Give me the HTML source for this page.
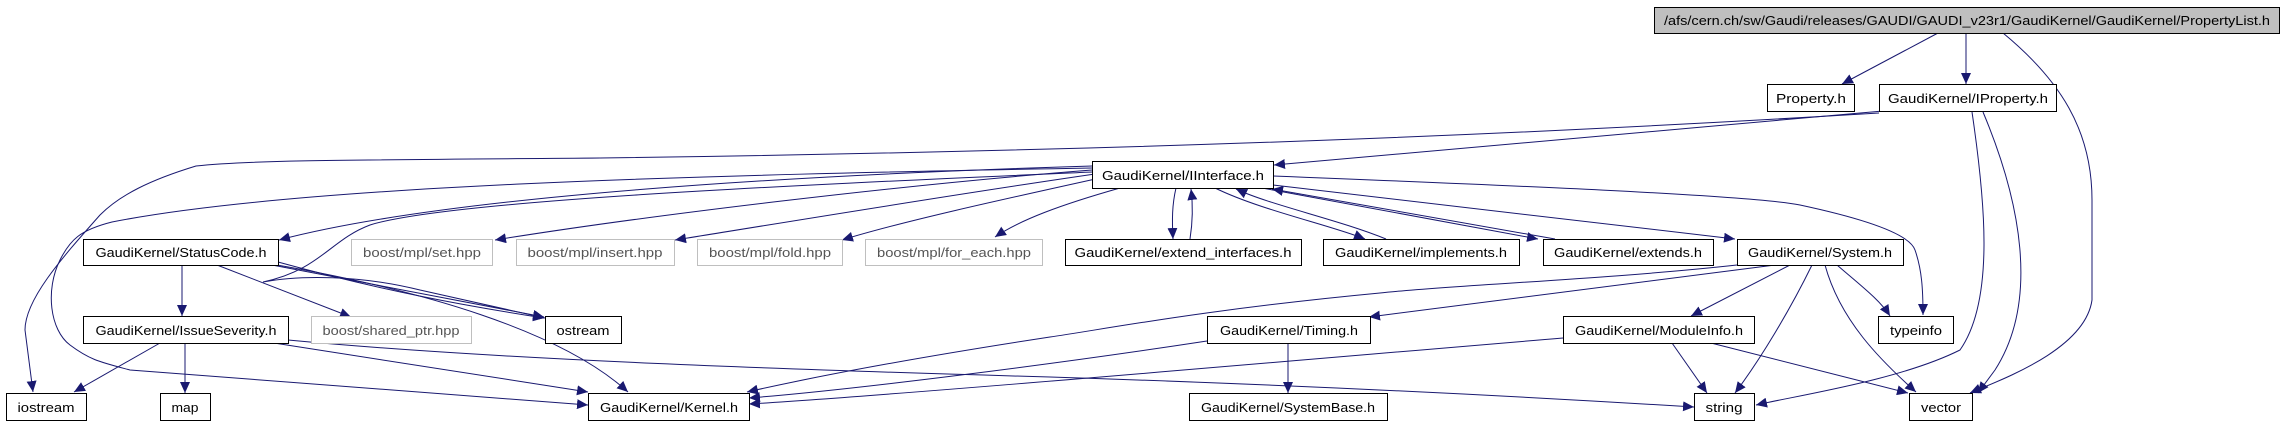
<!DOCTYPE html>
<html><head><meta charset="utf-8"><style>
html,body{margin:0;padding:0;background:#fff;}
svg{display:block;}
text{font-family:"Liberation Sans",sans-serif;font-size:13px;fill:#000;}
.g text{fill:#555;}
</style></head><body>
<svg width="2284" height="427" viewBox="0 0 2284 427" xmlns="http://www.w3.org/2000/svg">
<defs>
<marker id="a" markerUnits="userSpaceOnUse" markerWidth="12" markerHeight="10" refX="11" refY="5" orient="auto">
<path d="M0,0 L11,5 L0,10 z" fill="#191970"/>
</marker>
</defs>
<g fill="none" stroke="#191970" stroke-width="1" marker-end="url(#a)">
<!-- root -->
<path d="M1938,33 L1842,84"/>
<path d="M1966,33 L1966,84"/>
<path d="M2003,33 C2060,80 2092,130 2092,200 L2092,300 C2085,350 2000,380 1970,393"/>
<!-- IProperty -->
<path d="M1883,111 L1274,165"/>
<path d="M1879,113 C1600,130 1200,150 600,158 C350,160 250,160 196,166 C150,180 120,195 100,215 C60,260 25,300 25,330 L33,392"/>
<path d="M1972,112 C1985,200 1995,300 1960,350 C1900,380 1800,395 1756,405"/>
<path d="M1983,112 C2020,200 2040,300 1995,370 L1978,393"/>
<!-- IInterface -->
<path d="M1092,166 C800,175 450,195 279,240"/>
<path d="M1092,170 C900,185 650,215 495,240"/>
<path d="M1095,174 C950,195 800,220 675,240"/>
<path d="M1100,178 C1000,200 900,222 842,240"/>
<path d="M1120,188 C1060,205 1020,220 995,237"/>
<path d="M1092,168 C700,175 300,185 112,222 C80,230 70,240 60,260 C45,290 50,330 70,345 C90,360 100,362 130,370 L588,405"/>
<path d="M1092,172 C800,185 450,200 370,225 C330,240 320,270 263,282 C300,275 360,275 420,290 L545,318"/>
<path d="M1176,188 C1172,205 1172,220 1173,239"/>
<path d="M1190,239 C1193,220 1193,205 1191,189"/>
<path d="M1215,188 C1260,210 1330,225 1365,239"/>
<path d="M1386,239 C1340,220 1270,205 1236,189"/>
<path d="M1262,188 L1538,239"/>
<path d="M1555,239 L1272,189"/>
<path d="M1273,185 L1735,239"/>
<path d="M1273,176 C1500,185 1750,195 1800,205 C1870,220 1910,235 1915,250 C1922,270 1923,290 1923,315"/>
<!-- StatusCode -->
<path d="M182,265 L182,316"/>
<path d="M217,265 L351,317"/>
<path d="M272,265 L544,317"/>
<path d="M278,262 C380,290 460,305 544,318"/>
<path d="M277,265 C420,290 560,330 628,392"/>
<!-- IssueSeverity -->
<path d="M160,343 L74,392"/>
<path d="M185,343 L185,393"/>
<path d="M274,343 L588,392"/>
<path d="M288,340 C500,360 800,370 1050,377 C1300,385 1500,395 1694,407"/>
<!-- System -->
<path d="M1737,265 C1600,280 1450,285 1380,293 C1200,310 1100,330 1050,337 C900,360 800,380 747,392"/>
<path d="M1775,265 L1369,317"/>
<path d="M1790,265 L1691,316"/>
<path d="M1812,265 C1790,310 1760,360 1735,393"/>
<path d="M1825,265 C1840,320 1880,360 1916,392"/>
<path d="M1837,265 C1860,285 1880,300 1890,316"/>
<!-- Timing -->
<path d="M1288,343 L1288,393"/>
<path d="M1207,341 C1050,365 850,390 749,398"/>
<!-- ModuleInfo -->
<path d="M1563,338 C1300,360 900,395 749,404"/>
<path d="M1672,343 L1707,393"/>
<path d="M1711,343 L1908,393"/>
</g>
<g stroke="#000" stroke-width="1">
<rect x="1654.5" y="7.5" width="625" height="26" fill="#bfbfbf"/>
<text x="1967" y="25" text-anchor="middle" textLength="606" lengthAdjust="spacingAndGlyphs" stroke="none">/afs/cern.ch/sw/Gaudi/releases/GAUDI/GAUDI_v23r1/GaudiKernel/GaudiKernel/PropertyList.h</text>
</g>
<g fill="#fff" stroke="#000" stroke-width="1">
<rect x="1767.5" y="84.5" width="87" height="27"/>
<rect x="1879.5" y="84.5" width="177" height="27"/>
<rect x="1092.5" y="161.5" width="181" height="27"/>
<rect x="1065.5" y="239.5" width="236" height="26"/>
<rect x="1323.5" y="239.5" width="196" height="26"/>
<rect x="1543.5" y="239.5" width="170" height="26"/>
<rect x="1737.5" y="239.5" width="166" height="26"/>
<rect x="83.5" y="239.5" width="195" height="26"/>
<rect x="83.5" y="316.5" width="205" height="27"/>
<rect x="545.5" y="316.5" width="76" height="27"/>
<rect x="1207.5" y="316.5" width="163" height="27"/>
<rect x="1563.5" y="316.5" width="191" height="27"/>
<rect x="1878.5" y="316.5" width="75" height="27"/>
<rect x="6.5" y="393.5" width="80" height="27"/>
<rect x="160.5" y="393.5" width="50" height="27"/>
<rect x="588.5" y="393.5" width="161" height="27"/>
<rect x="1189.5" y="393.5" width="198" height="27"/>
<rect x="1694.5" y="393.5" width="60" height="27"/>
<rect x="1909.5" y="393.5" width="63" height="27"/>
</g>
<g fill="#fff" stroke="#bfbfbf" stroke-width="1">
<rect x="351.5" y="239.5" width="141" height="26"/>
<rect x="516.5" y="239.5" width="158" height="26"/>
<rect x="697.5" y="239.5" width="145" height="26"/>
<rect x="865.5" y="239.5" width="177" height="26"/>
<rect x="311.5" y="316.5" width="160" height="27"/>
</g>
<g text-anchor="middle">
<text x="1811" y="103" textLength="70" lengthAdjust="spacingAndGlyphs">Property.h</text>
<text x="1968" y="103" textLength="160" lengthAdjust="spacingAndGlyphs">GaudiKernel/IProperty.h</text>
<text x="1183" y="180" textLength="162" lengthAdjust="spacingAndGlyphs">GaudiKernel/IInterface.h</text>
<text x="1183" y="257" textLength="217" lengthAdjust="spacingAndGlyphs">GaudiKernel/extend_interfaces.h</text>
<text x="1421" y="257" textLength="172" lengthAdjust="spacingAndGlyphs">GaudiKernel/implements.h</text>
<text x="1628" y="257" textLength="148" lengthAdjust="spacingAndGlyphs">GaudiKernel/extends.h</text>
<text x="1820" y="257" textLength="144" lengthAdjust="spacingAndGlyphs">GaudiKernel/System.h</text>
<text x="181" y="257" textLength="171" lengthAdjust="spacingAndGlyphs">GaudiKernel/StatusCode.h</text>
<text x="186" y="335" textLength="181" lengthAdjust="spacingAndGlyphs">GaudiKernel/IssueSeverity.h</text>
<text x="583" y="335" textLength="53" lengthAdjust="spacingAndGlyphs">ostream</text>
<text x="1289" y="335" textLength="138" lengthAdjust="spacingAndGlyphs">GaudiKernel/Timing.h</text>
<text x="1659" y="335" textLength="168" lengthAdjust="spacingAndGlyphs">GaudiKernel/ModuleInfo.h</text>
<text x="1916" y="335" textLength="52" lengthAdjust="spacingAndGlyphs">typeinfo</text>
<text x="46" y="412" textLength="57" lengthAdjust="spacingAndGlyphs">iostream</text>
<text x="185" y="412" textLength="27" lengthAdjust="spacingAndGlyphs">map</text>
<text x="669" y="412" textLength="138" lengthAdjust="spacingAndGlyphs">GaudiKernel/Kernel.h</text>
<text x="1288" y="412" textLength="174" lengthAdjust="spacingAndGlyphs">GaudiKernel/SystemBase.h</text>
<text x="1724" y="412" textLength="37" lengthAdjust="spacingAndGlyphs">string</text>
<text x="1941" y="412" textLength="40" lengthAdjust="spacingAndGlyphs">vector</text>
</g>
<g class="g" text-anchor="middle">
<text x="422" y="257" textLength="118" lengthAdjust="spacingAndGlyphs">boost/mpl/set.hpp</text>
<text x="595" y="257" textLength="135" lengthAdjust="spacingAndGlyphs">boost/mpl/insert.hpp</text>
<text x="770" y="257" textLength="122" lengthAdjust="spacingAndGlyphs">boost/mpl/fold.hpp</text>
<text x="954" y="257" textLength="154" lengthAdjust="spacingAndGlyphs">boost/mpl/for_each.hpp</text>
<text x="391" y="335" textLength="137" lengthAdjust="spacingAndGlyphs">boost/shared_ptr.hpp</text>
</g>
</svg>
</body></html>
